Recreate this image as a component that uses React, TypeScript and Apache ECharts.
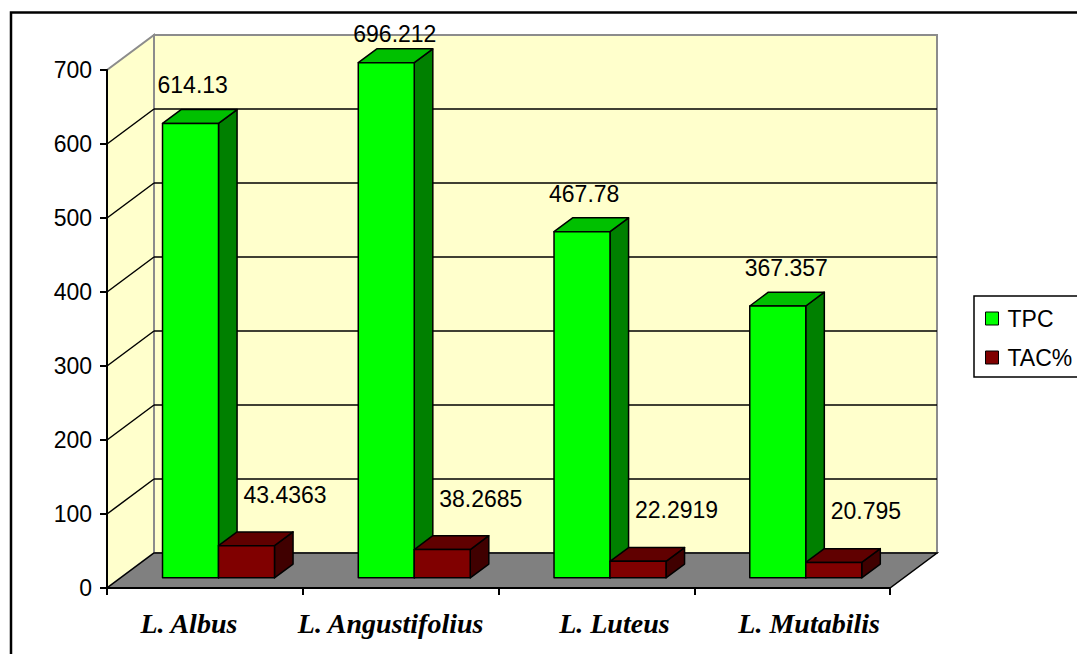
import React, { useEffect, useRef } from "react";
import * as echarts from "echarts";

const categories = ["L. Albus", "L. Angustifolius", "L. Luteus", "L. Mutabilis"];
const tpcValues = [614.13, 696.212, 467.78, 367.357];
const tacValues = [43.4363, 38.2685, 22.2919, 20.795];
const gridValues = [100, 200, 300, 400, 500, 600];
const seriesNames = ["TPC", "TAC%"];

// 3D projection settings (styling)
const DEPTH_X = 47;
const DEPTH_Y = -35;
const BAR_FRONT = 0.29;
const BAR_BACK = 0.685;
const BAR_FRAC = 0.286;
// horizontal nudge of each category label (styling, px)
const LABEL_NUDGE = [-16, -10, 18, 17];

const WALL = "#FFFFCC";
const FLOOR = "#808080";
const EDGE = "#8C8C8C";
const SANS = '"Liberation Sans", Arial, sans-serif';
const SERIF = '"Liberation Serif", "Times New Roman", serif';

const barColors = [
  { front: "#00FF00", top: "#00C000", side: "#008000" },
  { front: "#800000", top: "#600000", side: "#400000" },
];
const labelOffset = [
  { dx: -5, dy: -38 },
  { dx: 25, dy: -51 },
];

function makeBarRender(idx: number) {
  return (params: any, api: any) => {
    const cat = api.value(0);
    const val = api.value(1);
    const band = api.size([1, 0])[0];
    const bw = band * BAR_FRAC;
    const base = api.coord([cat, 0]);
    const topP = api.coord([cat, val]);
    const ox = DEPTH_X * BAR_FRONT;
    const oy = DEPTH_Y * BAR_FRONT;
    const ddx = DEPTH_X * (BAR_BACK - BAR_FRONT);
    const ddy = DEPTH_Y * (BAR_BACK - BAR_FRONT);
    const cx = base[0] + ox;
    const x0 = idx === 0 ? cx - bw : cx;
    const x1 = x0 + bw;
    const yb = base[1] + oy;
    const yt = topP[1] + oy;
    const c = barColors[idx];
    const stroke = { stroke: "#000", lineWidth: 1.5, lineJoin: "round" };
    const lblY = Math.max(yt + labelOffset[idx].dy, params.coordSys.y - 36);
    return {
      type: "group",
      children: [
        {
          type: "polygon",
          shape: { points: [[x1, yt], [x1 + ddx, yt + ddy], [x1 + ddx, yb + ddy], [x1, yb]] },
          style: { fill: c.side, ...stroke },
        },
        {
          type: "polygon",
          shape: { points: [[x0, yt], [x1, yt], [x1 + ddx, yt + ddy], [x0 + ddx, yt + ddy]] },
          style: { fill: c.top, ...stroke },
        },
        {
          type: "rect",
          shape: { x: x0, y: yt, width: bw, height: yb - yt },
          style: { fill: c.front, ...stroke },
        },
        {
          type: "text",
          x: x0 + labelOffset[idx].dx,
          y: lblY,
          style: {
            text: String(val),
            fill: "#000",
            fontSize: 23,
            fontFamily: SANS,
            align: "left",
            verticalAlign: "middle",
          },
        },
      ],
    };
  };
}

export default function App() {
  const ref = useRef<HTMLDivElement>(null);
  useEffect(() => {
    if (!ref.current) return;
    const chart = echarts.init(ref.current, undefined, { renderer: "svg" });
    const rich: any = {};
    LABEL_NUDGE.forEach((n, i) => {
      rich["c" + i] = {
        fontSize: 28,
        fontWeight: "bold",
        fontStyle: "italic",
        fontFamily: SERIF,
        color: "#000",
        padding: n < 0 ? [0, -2 * n, 0, 0] : [0, 0, 0, 2 * n],
      };
    });
    const option: any = {
      animation: false,
      backgroundColor: "#fff",
      graphic: [
        {
          type: "rect",
          shape: { x: 11, y: 12.5, width: 1200, height: 800 },
          style: { fill: "none", stroke: "#000", lineWidth: 2.5 },
          z: 100,
        },
        {
          type: "rect",
          shape: { x: 974, y: 296, width: 200, height: 81 },
          style: { fill: "none", stroke: "#000", lineWidth: 1.5 },
          z: 100,
        },
      ],
      legend: {
        data: seriesNames,
        orient: "vertical",
        left: 974,
        top: 296,
        padding: [11, 4, 9, 11],
        itemGap: 16,
        itemWidth: 13,
        itemHeight: 13,
        icon: "rect",
        borderWidth: 0,
        backgroundColor: "#fff",
        itemStyle: { borderColor: "#000", borderWidth: 1 },
        textStyle: { fontSize: 23, fontFamily: SANS, color: "#000", lineHeight: 22, padding: [0, 0, 0, 4] },
      },
      grid: { left: 107, right: 187, top: 70, bottom: 66, containLabel: false },
      xAxis: {
        type: "category",
        data: categories,
        boundaryGap: true,
        axisLine: { show: true, lineStyle: { color: "#000", width: 2 } },
        axisTick: { show: true, length: 7, lineStyle: { color: "#000", width: 2 } },
        axisLabel: {
          interval: 0,
          margin: 21,
          color: "#000",
          fontSize: 28,
          fontWeight: "bold",
          fontStyle: "italic",
          fontFamily: SERIF,
          formatter: (v: string, i: number) => `{c${i}|${v}}`,
          rich,
        },
        splitLine: { show: false },
      },
      yAxis: {
        type: "value",
        min: 0,
        max: 700,
        interval: 100,
        axisLine: { show: true, lineStyle: { color: "#000", width: 2 } },
        axisTick: { show: true, length: 7, lineStyle: { color: "#000", width: 2 } },
        axisLabel: { margin: 15, color: "#000", fontSize: 23, fontFamily: SANS },
        splitLine: { show: false },
      },
      series: [
        {
          type: "custom",
          name: "walls",
          z: -1,
          clip: false,
          silent: true,
          data: [[0, 0]],
          renderItem: (params: any, api: any) => {
            const cs = params.coordSys;
            const L = cs.x, R = cs.x + cs.width, T = cs.y, B = cs.y + cs.height;
            const dx = DEPTH_X, dy = DEPTH_Y;
            return {
              type: "group",
              children: [
                {
                  type: "polygon",
                  shape: { points: [[L + dx, T + dy], [R + dx, T + dy], [R + dx, B + dy], [L + dx, B + dy]] },
                  style: { fill: WALL, stroke: EDGE, lineWidth: 2 },
                },
                {
                  type: "polygon",
                  shape: { points: [[L, B], [L, T], [L + dx, T + dy], [L + dx, B + dy]] },
                  style: { fill: WALL, stroke: EDGE, lineWidth: 2 },
                },
                {
                  type: "polygon",
                  shape: { points: [[L, B], [R, B], [R + dx, B + dy], [L + dx, B + dy]] },
                  style: { fill: FLOOR, stroke: "#000", lineWidth: 1.5 },
                },
              ],
            };
          },
        },
        {
          type: "custom",
          name: "gridlines",
          z: -1,
          clip: false,
          silent: true,
          data: gridValues.map((v) => [0, v]),
          renderItem: (params: any, api: any) => {
            const cs = params.coordSys;
            const L = cs.x, R = cs.x + cs.width;
            const y = api.coord([0, api.value(1)])[1];
            return {
              type: "group",
              children: [
                {
                  type: "line",
                  shape: { x1: L, y1: y, x2: L + DEPTH_X, y2: y + DEPTH_Y },
                  style: { stroke: "#000", lineWidth: 1.5 },
                },
                {
                  type: "line",
                  shape: { x1: L + DEPTH_X, y1: y + DEPTH_Y, x2: R + DEPTH_X, y2: y + DEPTH_Y },
                  style: { stroke: "#000", lineWidth: 1.5 },
                },
              ],
            };
          },
        },
        {
          type: "custom",
          name: seriesNames[0],
          clip: false,
          itemStyle: { color: barColors[0].front, borderColor: "#000", borderWidth: 1 },
          encode: { x: 0, y: 1 },
          data: tpcValues.map((v, i) => [i, v]),
          renderItem: makeBarRender(0),
        },
        {
          type: "custom",
          name: seriesNames[1],
          clip: false,
          itemStyle: { color: barColors[1].front, borderColor: "#000", borderWidth: 1 },
          encode: { x: 0, y: 1 },
          data: tacValues.map((v, i) => [i, v]),
          renderItem: makeBarRender(1),
        },
      ],
    };
    chart.setOption(option);
    return () => chart.dispose();
  }, []);
  return (
    <div
      ref={ref}
      style={{ position: "fixed", left: 0, top: 0, width: 1077, height: 654, background: "#fff" }}
    />
  );
}
